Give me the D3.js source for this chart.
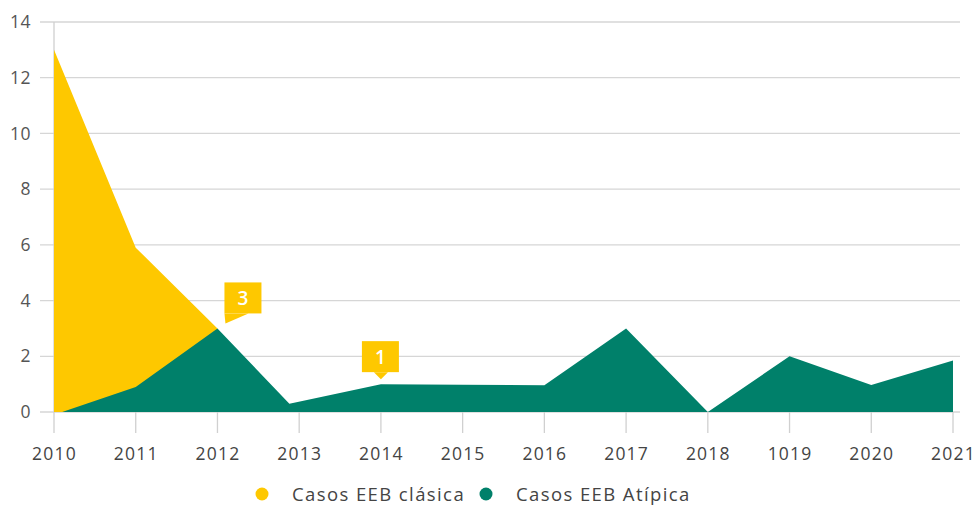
<html>
<head>
<meta charset="utf-8">
<title>Casos EEB</title>
<style>
body { margin: 0; background: #fff; }
text { font-family: 'Open Sans', sans-serif; }
.legend text { fill: #444; font-size: 18.5px; letter-spacing: 1.4px; }
.callout text { fill: #fff; font-size: 19px; font-weight: 600; }
</style>
<script src="https://d3js.org/d3.v7.min.js"></script>
</head>
<body>
<svg id="chart" width="976" height="505"></svg>
<script>

// year labels as printed (the "1019" typo is in the original)
var yearLabels = ['2010','2011','2012','2013','2014','2015','2016','2017','2018','1019','2020','2021'];

// classic cases (year index, value)
var clasicaPos = [0, 1, 2];
var clasicaVal = [13, 5.9, 3];

// atypical cases (year index, value) - the vertices sit slightly off the ticks in places
var atipicaPos = [0.1, 1, 2, 2.88, 4, 5, 6, 7, 8, 9, 10, 11];
var atipicaVal = [0, 0.9, 3, 0.3, 1.0, 0.98, 0.96, 3, 0, 2, 0.97, 1.85];

var yTicks = [0, 2, 4, 6, 8, 10, 12, 14];

// callouts: year index, value shown
var callouts = [
	{ pos: 2, val: 3, label: '3', kind: 'side' },
	{ pos: 4, val: 1, label: '1', kind: 'down' }
];

var legendNames = ['Casos EEB clásica', 'Casos EEB Atípica'];
var yellow = '#FEC800', green = '#00806A';

var svg = d3.select('#chart');

var x = d3.scaleLinear().domain([0, 11]).range([54, 953]);
var y = d3.scaleLinear().domain([0, 14]).range([412, 22]);

// grid
svg.selectAll('.grid')
	.data(yTicks)
	.enter()
	.append('line')
	.attr('x1', 40)
	.attr('x2', 960)
	.attr('y1', function(d) { return y(d) })
	.attr('y2', function(d) { return y(d) })
	.attr('stroke', '#d6d6d6')
	.attr('stroke-width', 1.3);

// year ticks
svg.selectAll('.yearTick')
	.data(yearLabels)
	.enter()
	.append('line')
	.attr('x1', function(d, i) { return x(i) })
	.attr('x2', function(d, i) { return x(i) })
	.attr('y1', function(d, i) { return i == 0 ? y(14) : y(0) })
	.attr('y2', 433)
	.attr('stroke', '#d0d0d0')
	.attr('stroke-width', 1.3);

var area = d3.area()
	.x(function(d) { return x(d[0]) })
	.y0(y(0))
	.y1(function(d) { return y(d[1]) });

svg.append('path')
	.attr('d', area(clasicaPos.map(function(p, i) { return [p, clasicaVal[i]] })))
	.attr('fill', yellow);

svg.append('path')
	.attr('d', area(atipicaPos.map(function(p, i) { return [p, atipicaVal[i]] })))
	.attr('fill', green);

// y labels
svg.append('g')
	.attr('transform', 'translate(31,0)')
	.call(d3.axisLeft(y).tickValues(yTicks).tickSize(0).tickPadding(0))
	.call(function(g) { g.select('.domain').remove() })
	.selectAll('text')
	.attr('text-anchor', 'end')
	.style('font-size', '17.5px')
	.style('letter-spacing', '0.5px')
	.style('fill', '#555');

// x labels
svg.append('g')
	.attr('transform', 'translate(0,' + 444 + ')')
	.call(d3.axisBottom(x).tickValues(d3.range(12)).tickFormat(function(d) { return yearLabels[d] }).tickSize(0).tickPadding(0))
	.call(function(g) { g.select('.domain').remove() })
	.selectAll('text')
	.attr('dy', '0.9em')
	.style('font-size', '17.5px')
	.style('letter-spacing', '1.2px')
	.style('fill', '#444');

// callouts
callouts.forEach(function(c) {
	var g = svg.append('g').attr('class', 'callout');
	var px = x(c.pos), py = y(c.val);
	var bx, by, tri;
	if (c.kind == 'side') {
		bx = px + 7; by = py - 46;
		tri = [[bx, by + 31], [bx + 24, by + 31], [bx + 1, by + 41]];
	} else {
		bx = px - 19; by = py - 43;
		tri = [[px - 7, by + 31], [px + 7, by + 31], [px, by + 38]];
	}
	g.append('rect').attr('x', bx).attr('y', by).attr('width', 37).attr('height', 31).attr('fill', yellow);
	g.append('path').attr('d', 'M' + tri.join('L') + 'Z').attr('fill', yellow);
	g.append('text').attr('x', bx + 18.5).attr('y', by + 22.5).attr('text-anchor', 'middle').text(c.label);
});

// legend
var legend = svg.append('g').attr('class', 'legend');
var legendX = [262, 486];
legendNames.forEach(function(name, i) {
	legend.append('circle').attr('cx', legendX[i]).attr('cy', 494).attr('r', 6.5).attr('fill', i == 0 ? yellow : green);
	legend.append('text').attr('x', legendX[i] + 30).attr('y', 501).text(name);
});

</script>
</body>
</html>
